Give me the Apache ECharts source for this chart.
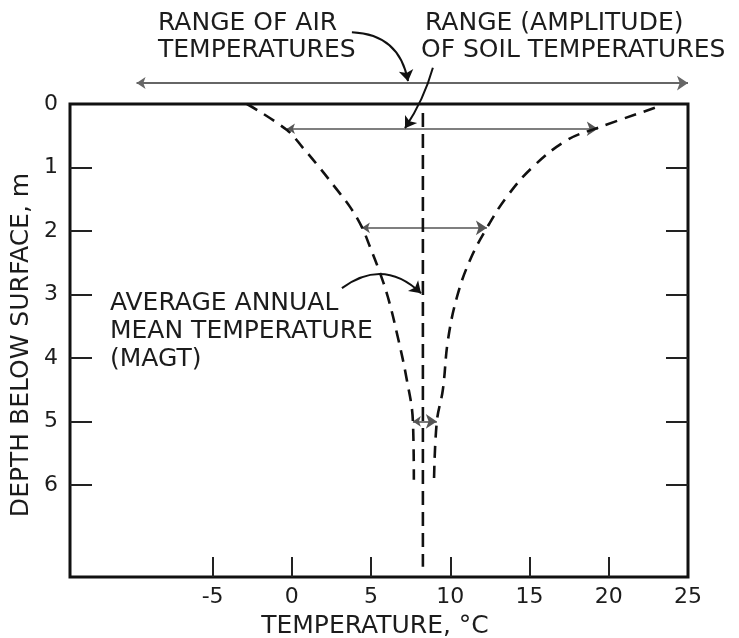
<!DOCTYPE html>
<html>
<head>
<meta charset="utf-8">
<script src="https://cdn.jsdelivr.net/npm/echarts/dist/echarts.min.js"></script>
<style>html,body{margin:0;padding:0;background:#fff}#c{width:739px;height:638px}</style>
</head>
<body>
<div id="c"></div>
<script>
// ---- data ----
const xTickValues = [-5, 0, 5, 10, 15, 20];
const xLabelValues = [-5, 0, 5, 10, 15, 20, 25];
const yTickValues = [1, 2, 3, 4, 5, 6];
const yLabelValues = [0, 1, 2, 3, 4, 5, 6];

// soil temperature envelope (deg C vs depth m)
const leftCurveTemp  = [-2.83, -0.31, 0.70, 1.77, 2.72, 3.67, 4.42, 4.93, 5.56, 6.06, 6.63, 7.26, 7.64, 7.70];
const leftCurveDepth = [0.00, 0.41, 0.69, 1.01, 1.31, 1.62, 1.94, 2.25, 2.66, 3.04, 3.61, 4.35, 5.00, 5.92];
const rightCurveTemp  = [22.91, 19.25, 17.36, 15.21, 13.57, 12.31, 11.24, 10.42, 9.85, 9.53, 9.15, 8.97];
const rightCurveDepth = [0.06, 0.38, 0.57, 0.99, 1.46, 1.95, 2.46, 3.04, 3.72, 4.50, 5.00, 5.95];

// mean annual ground temperature line
const magtTemp = 8.27;
const magtDepth = [0.14, 7.29];

// amplitude arrows
const amplitudeDepth = [0.39, 1.95, 5.0];
const amplitudeMin = [-0.31, 4.42, 7.64];
const amplitudeMax = [19.31, 12.31, 9.15];

// range of air temperatures
const airRange = [-9.8, 25];

// ---- layout constants (annotation placement, data coordinates) ----
const airArrowDepth = -0.33;
const airPointer = [[3.79, -1.13], [7.33, -0.36]];
const soilPointer = [[8.90, -0.57], [7.14, 0.38]];
const magtPointer = [[3.16, 2.90], [8.15, 2.98]];

const FONT = 'DejaVu Sans';
const INK = '#1c1c1c';

const chart = echarts.init(document.getElementById('c'), null, {renderer: 'canvas'});

function txt(text, x, y, opts) {
  return Object.assign({
    type: 'text', x: x, y: y, silent: true,
    style: Object.assign({text: text, fill: INK, font: '25px ' + FONT, textAlign: 'left', textVerticalAlign: 'middle'}, (opts && opts.style) || {})
  }, opts && opts.el || {});
}

const option = {
  animation: false,
  backgroundColor: '#fff',
  grid: {left: 70, right: 51, top: 104, bottom: 61, show: true, borderColor: '#111', borderWidth: 3},
  xAxis: {
    type: 'value', min: -14, max: 25,
    axisLine: {show: false, onZero: false},
    splitLine: {show: false},
    axisTick: {show: true, inside: true, length: 20, customValues: xTickValues, lineStyle: {color: '#222', width: 2}},
    axisLabel: {customValues: xLabelValues, fontSize: 22, color: INK, margin: 9, fontFamily: FONT}
  },
  yAxis: [{
    type: 'value', inverse: true, min: 0, max: 7.45, position: 'left',
    axisLine: {show: false, onZero: false},
    splitLine: {show: false},
    axisTick: {show: true, inside: true, length: 22, customValues: yTickValues, lineStyle: {color: '#222', width: 2}},
    axisLabel: {customValues: yLabelValues, fontSize: 22, color: INK, margin: 12, fontFamily: FONT}
  }, {
    type: 'value', inverse: true, min: 0, max: 7.45, position: 'right',
    axisLine: {show: false, onZero: false},
    splitLine: {show: false},
    axisTick: {show: true, inside: true, length: 22, customValues: yTickValues, lineStyle: {color: '#222', width: 2}},
    axisLabel: {show: false}
  }],
  series: [
    {
      type: 'line', silent: true, showSymbol: false, smooth: 0.4,
      data: leftCurveTemp.map((t, i) => [t, leftCurveDepth[i]]),
      lineStyle: {color: '#111', width: 2.6, type: [12, 8]}
    },
    {
      type: 'line', silent: true, showSymbol: false, smooth: 0.4,
      data: rightCurveTemp.map((t, i) => [t, rightCurveDepth[i]]),
      lineStyle: {color: '#111', width: 2.6, type: [12, 8]}
    },
    {
      type: 'line', silent: true, showSymbol: false,
      data: magtDepth.map(d => [magtTemp, d]),
      lineStyle: {color: '#111', width: 2.6, type: [14, 7]}
    },
    {
      type: 'lines', coordinateSystem: 'cartesian2d', silent: true, clip: false,
      symbol: ['arrow', 'arrow'], symbolSize: [8, 11],
      lineStyle: {color: '#555', width: 1.6, opacity: 1},
      data: amplitudeDepth.map((d, i) => ({coords: [[amplitudeMin[i], d], [amplitudeMax[i], d]]}))
    },
    {
      type: 'lines', coordinateSystem: 'cartesian2d', silent: true, clip: false,
      symbol: ['arrow', 'arrow'], symbolSize: [9, 11],
      lineStyle: {color: '#666', width: 2, opacity: 1},
      data: [{coords: [[airRange[0], airArrowDepth], [airRange[1], airArrowDepth]]}]
    },
    {
      type: 'lines', coordinateSystem: 'cartesian2d', silent: true, clip: false,
      symbol: ['none', 'arrow'], symbolSize: [8, 11],
      lineStyle: {color: '#111', width: 2, opacity: 1},
      data: [
        {coords: airPointer, lineStyle: {curveness: 0.4}},
        {coords: soilPointer, lineStyle: {curveness: 0.08}},
        {coords: magtPointer, lineStyle: {curveness: 0.42}}
      ]
    }
  ],
  graphic: [
    txt('RANGE OF AIR', 158, 23),
    txt('TEMPERATURES', 158, 50),
    txt('RANGE (AMPLITUDE)', 425, 23),
    txt('OF SOIL TEMPERATURES', 421, 50),
    txt('AVERAGE ANNUAL', 110, 303),
    txt('MEAN TEMPERATURE', 110, 331),
    txt('(MAGT)', 110, 359),
    txt('TEMPERATURE, °C', 375, 626, {style: {textAlign: 'center'}}),
    txt('DEPTH BELOW SURFACE, m', 21, 345, {style: {textAlign: 'center'}, el: {rotation: Math.PI / 2}})
  ]
};
chart.setOption(option);
</script>
</body>
</html>
